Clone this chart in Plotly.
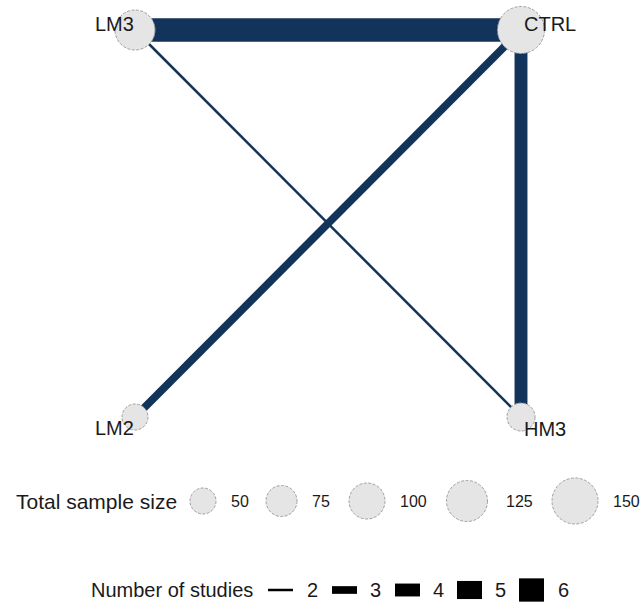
import plotly.graph_objects as go

# Network of treatments
nodes = ["LM3", "CTRL", "LM2", "HM3"]
node_x = [0, 1, 0, 1]
node_y = [1, 1, 0, 0]
sample_size = [120, 155, 50, 60]

edge_from = ["LM3", "CTRL", "CTRL", "LM3"]
edge_to = ["CTRL", "LM2", "HM3", "HM3"]
n_studies = [6, 3, 4, 2]

# Legend entries
size_breaks = [50, 75, 100, 125, 150]
study_breaks = [2, 3, 4, 5, 6]

W, H = 643, 604
FONT = "Liberation Sans, Arial, sans-serif"
EDGE_COLOR = "#12345A"
NODE_FILL = "#E5E5E5"
NODE_LINE = "#A0A0A0"
NODE_DASH = "3px,1.5px"


def node_radius(n):
    return 8 + 0.1 * n


def edge_width(k):
    return 2.5 + 5.2 * (k - 2)


# network axes: layout unit square placed inside the page
px_per_unit_x = 386.0
px_per_unit_y = 387.0
x_min = -135 / px_per_unit_x
x_max = x_min + W / px_per_unit_x
y_max = 1 + 30 / px_per_unit_y
y_min = y_max - H / px_per_unit_y

pos = {n: (x, y) for n, x, y in zip(nodes, node_x, node_y)}

fig = go.Figure()

for a, b, k in zip(edge_from, edge_to, n_studies):
    fig.add_trace(go.Scatter(
        x=[pos[a][0], pos[b][0]], y=[pos[a][1], pos[b][1]],
        mode="lines", line=dict(color=EDGE_COLOR, width=edge_width(k)),
        hoverinfo="skip", showlegend=False, xaxis="x", yaxis="y"))

shapes = []
for n, x, y, s in zip(nodes, node_x, node_y, sample_size):
    r = node_radius(s)
    shapes.append(dict(
        type="circle", xref="x", yref="y", xsizemode="pixel", ysizemode="pixel",
        xanchor=x, yanchor=y, x0=-r, x1=r, y0=-r, y1=r,
        fillcolor=NODE_FILL, line=dict(color=NODE_LINE, width=1, dash=NODE_DASH),
        layer="above"))

annotations = []
label_place = {
    "LM3": ("right", 6),
    "CTRL": ("left", 6),
    "LM2": ("right", -11),
    "HM3": ("left", -12),
}
for n, x, y in zip(nodes, node_x, node_y):
    anchor, shift = label_place[n]
    annotations.append(dict(
        x=x, y=y, xref="x", yref="y", text=n, showarrow=False,
        xanchor=anchor, yanchor="middle", yshift=shift, xshift=1,
        font=dict(family=FONT, size=20, color="#1a1a1a")))

# sample size legend (pixel axes x2/y2)
size_cx = [203, 281.5, 367, 467, 575]
size_lx = [240, 321, 413, 519, 626]
leg1_y = 501
annotations.append(dict(
    x=14, y=leg1_y, xref="x2", yref="y2", text="Total sample size", showarrow=False,
    xanchor="left", yanchor="middle", font=dict(family=FONT, size=21, color="#1a1a1a")))
for s, cx, lx in zip(size_breaks, size_cx, size_lx):
    r = node_radius(s)
    shapes.append(dict(
        type="circle", xref="x2", yref="y2", xsizemode="pixel", ysizemode="pixel",
        xanchor=cx, yanchor=leg1_y, x0=-r, x1=r, y0=-r, y1=r,
        fillcolor=NODE_FILL, line=dict(color=NODE_LINE, width=1, dash=NODE_DASH),
        layer="above"))
    annotations.append(dict(
        x=lx, y=leg1_y, xref="x2", yref="y2", text=str(s), showarrow=False,
        xanchor="center", yanchor="middle",
        font=dict(family=FONT, size=16, color="#1a1a1a")))

# number of studies legend
study_x0 = [268, 332, 395, 457, 519]
study_lx = [312, 375, 438, 500, 563]
leg2_y = 590
annotations.append(dict(
    x=89, y=leg2_y, xref="x2", yref="y2", text="Number of studies", showarrow=False,
    xanchor="left", yanchor="middle", font=dict(family=FONT, size=20, color="#1a1a1a")))
for k, x0, lx in zip(study_breaks, study_x0, study_lx):
    fig.add_trace(go.Scatter(
        x=[x0, x0 + 25], y=[leg2_y, leg2_y], mode="lines",
        line=dict(color="black", width=edge_width(k)),
        hoverinfo="skip", showlegend=False, xaxis="x2", yaxis="y2"))
    annotations.append(dict(
        x=lx, y=leg2_y, xref="x2", yref="y2", text=str(k), showarrow=False,
        xanchor="center", yanchor="middle",
        font=dict(family=FONT, size=20, color="#1a1a1a")))

hidden = dict(visible=False, showgrid=False, zeroline=False, fixedrange=True)
fig.update_layout(
    width=W, height=H, margin=dict(l=0, r=0, t=0, b=0),
    paper_bgcolor="white", plot_bgcolor="white",
    xaxis=dict(range=[x_min, x_max], domain=[0, 1], **hidden),
    yaxis=dict(range=[y_min, y_max], domain=[0, 1], **hidden),
    xaxis2=dict(range=[0, W], domain=[0, 1], overlaying="x", **hidden),
    yaxis2=dict(range=[H, 0], domain=[0, 1], overlaying="y", **hidden),
    shapes=shapes, annotations=annotations, showlegend=False,
)

fig.write_html("out.html")
